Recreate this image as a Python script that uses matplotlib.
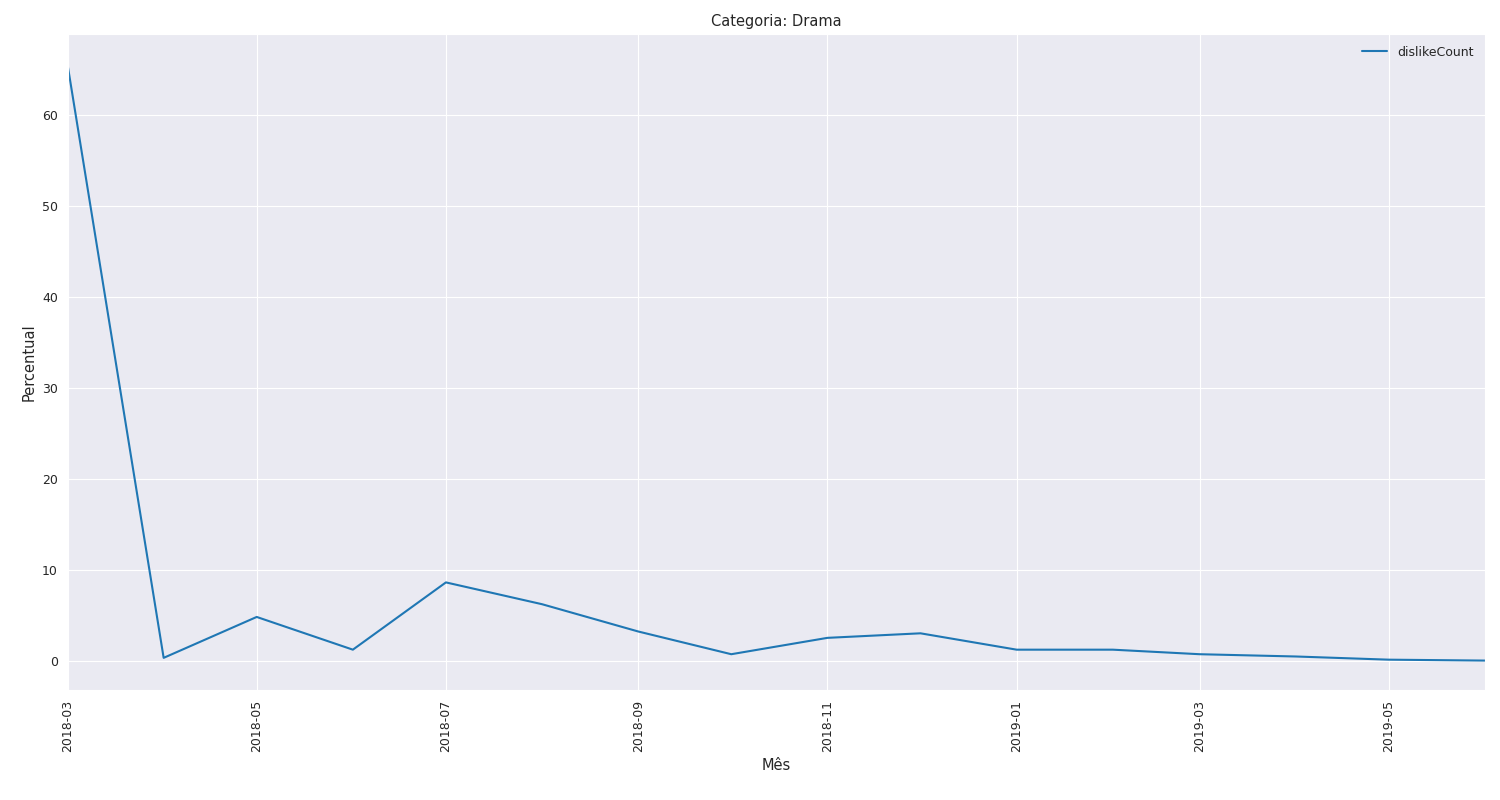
import numpy as np
import pandas as pd
import matplotlib
matplotlib.use('Agg')
import matplotlib.pyplot as plt
import seaborn as sns

months = pd.date_range('2018-03-01', '2019-06-01', freq='MS')
dislike_pct = [65.6, 0.3, 4.8, 1.2, 8.6, 6.2, 3.2, 0.7, 2.5, 3.0, 1.2, 1.2, 0.7, 0.45, 0.1, 0.0]

sns.set_style('darkgrid')
plt.rcParams['font.size'] = 10

fig, ax = plt.subplots(figsize=(15, 8), dpi=100)
ax.plot(months, dislike_pct, color='#1f77b4', label='dislikeCount', linewidth=1.5)
ax.set_xlim(months[0], months[-1])
ticks = pd.date_range('2018-03-01', '2019-05-01', freq='2MS')
ax.set_xticks(ticks)
ax.set_xticklabels([t.strftime('%Y-%m') for t in ticks], rotation=90, fontsize=9)
ax.tick_params(axis='y', labelsize=9)
ax.set_title('Categoria: Drama', fontsize=10.5)
ax.set_xlabel('Mês', fontsize=10.5)
ax.set_ylabel('Percentual', fontsize=10.5)
ax.legend(frameon=False, fontsize=9)
fig.subplots_adjust(left=0.045, right=0.99, top=0.957, bottom=0.137)
fig.savefig('out.png')
